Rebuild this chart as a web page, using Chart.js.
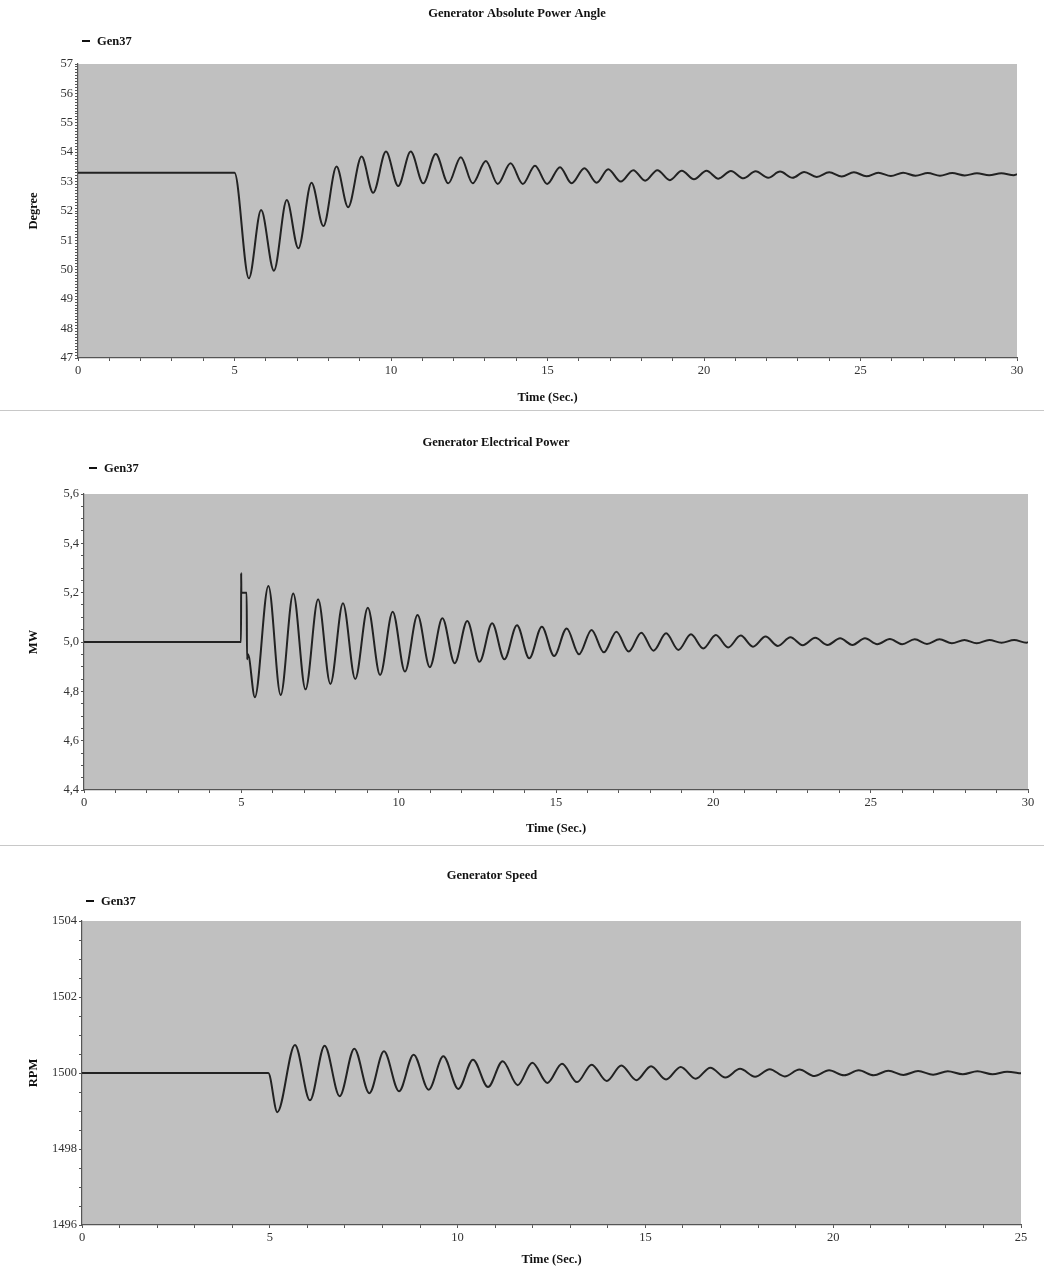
<!DOCTYPE html>
<html>
<head>
<meta charset="utf-8">
<script src="https://cdn.jsdelivr.net/npm/chart.js@4.4.1/dist/chart.umd.min.js"></script>
<style>
  body { margin: 0; background: #fff; }
  #wrap { position: relative; width: 1044px; height: 1270px; }
  canvas { position: absolute; left: 0; }
  .sep { position: absolute; left: 0; width: 1044px; height: 1px; background: #c8c8c8; }
</style>
</head>
<body>
<div id="wrap">
  <canvas id="angleChart" width="1044" height="410" style="top:0"></canvas>
  <div class="sep" style="top:410px"></div>
  <canvas id="powerChart" width="1044" height="425" style="top:418px"></canvas>
  <div class="sep" style="top:845px"></div>
  <canvas id="speedChart" width="1044" height="422" style="top:848px"></canvas>
</div>
<script>
// Generator Absolute Power Angle (deg) - peaks/troughs
const angleTime = [0, 5.0, 5.46, 5.85, 6.26, 6.67, 7.04, 7.46, 7.84, 8.26, 8.63, 9.06, 9.43, 9.84, 10.23, 10.63,
  11.03, 11.43, 11.83, 12.23, 12.61, 13.03, 13.41, 13.82, 14.21, 14.6, 14.99, 15.4, 15.77, 16.18, 16.57, 16.94,
  17.34, 17.74, 18.12, 18.51, 18.91, 19.29, 19.68, 20.08, 20.46, 20.86, 21.26, 21.65, 22.05, 22.43, 22.83, 23.2,
  23.6, 24.0, 24.4, 24.79, 25.19, 25.57, 25.97, 26.36, 26.76, 27.15, 27.54, 27.93, 28.33, 28.72, 29.11, 29.5, 29.9, 30];
const angleDeg = [53.3, 53.3, 49.71, 52.03, 49.97, 52.37, 50.73, 52.96, 51.49, 53.51, 52.13, 53.85, 52.62, 54.02, 52.85, 54.02,
  52.94, 53.94, 52.94, 53.83, 52.94, 53.7, 52.92, 53.62, 52.92, 53.54, 52.92, 53.49, 52.94, 53.45, 52.96, 53.42,
  53.0, 53.39, 53.03, 53.39, 53.05, 53.37, 53.08, 53.37, 53.1, 53.36, 53.11, 53.35, 53.13, 53.34, 53.13, 53.33,
  53.16, 53.32, 53.17, 53.32, 53.18, 53.3, 53.19, 53.3, 53.2, 53.29, 53.2, 53.29, 53.21, 53.28, 53.22, 53.28, 53.22, 53.25];

// Generator Electrical Power (MW)
const powerTime = [0, 4.99, 4.995, 5.0, 5.17, 5.18, 5.21, 5.43,
  5.86, 6.25, 6.65, 7.04, 7.44, 7.83, 8.23, 8.62, 9.02, 9.41, 9.81, 10.2, 10.6, 10.99, 11.39, 11.78,
  12.18, 12.57, 12.97, 13.36, 13.76, 14.15, 14.55, 14.94, 15.34, 15.73, 16.13, 16.52, 16.92, 17.31, 17.71, 18.1,
  18.5, 18.89, 19.29, 19.68, 20.08, 20.47, 20.87, 21.26, 21.66, 22.05, 22.45, 22.84, 23.24, 23.63, 24.03, 24.42,
  24.82, 25.21, 25.61, 26.0, 26.4, 26.79, 27.19, 27.58, 27.98, 28.37, 28.77, 29.16, 29.56, 29.95, 30];
const powerMW = [5.0, 5.0, 5.28, 5.2, 5.2, 4.93, 4.95, 4.776,
  5.227, 4.785, 5.197, 4.808, 5.173, 4.83, 5.157, 4.85, 5.139, 4.866, 5.123, 4.88, 5.109, 4.898, 5.096, 4.914,
  5.085, 4.92, 5.076, 4.93, 5.068, 4.934, 5.062, 4.943, 5.055, 4.95, 5.049, 4.958, 5.042, 4.961, 5.038, 4.965,
  5.035, 4.968, 5.031, 4.974, 5.028, 4.978, 5.026, 4.981, 5.022, 4.984, 5.019, 4.987, 5.017, 4.988, 5.015, 4.988,
  5.015, 4.991, 5.012, 4.991, 5.011, 4.992, 5.011, 4.995, 5.008, 4.995, 5.008, 4.997, 5.008, 4.997, 4.999];

// Generator Speed (RPM)
const speedTime = [0, 4.96, 5.2,
  5.67, 6.07, 6.46, 6.86, 7.25, 7.65, 8.04, 8.44, 8.83, 9.23, 9.62, 10.02, 10.41, 10.81, 11.2, 11.6,
  11.99, 12.39, 12.78, 13.18, 13.57, 13.97, 14.36, 14.76, 15.15, 15.55, 15.94, 16.34, 16.73, 17.13, 17.52, 17.92,
  18.31, 18.71, 19.1, 19.5, 19.89, 20.29, 20.68, 21.08, 21.47, 21.87, 22.26, 22.66, 23.05, 23.45, 23.84, 24.24, 24.63, 25.0];
const speedRPM = [1500, 1500, 1498.97,
  1500.74, 1499.28, 1500.72, 1499.39, 1500.64, 1499.47, 1500.57, 1499.52, 1500.48, 1499.56, 1500.44, 1499.58, 1500.35, 1499.63, 1500.31, 1499.68,
  1500.27, 1499.74, 1500.245, 1499.76, 1500.22, 1499.79, 1500.2, 1499.81, 1500.18, 1499.83, 1500.16, 1499.85, 1500.14, 1499.88, 1500.11, 1499.9,
  1500.1, 1499.91, 1500.09, 1499.92, 1500.07, 1499.94, 1500.07, 1499.94, 1500.06, 1499.95, 1500.05, 1499.955, 1500.045, 1499.965, 1500.045, 1499.965, 1500.035, 1499.99];

const seriesName = 'Gen37';
const FONT = "'Liberation Serif', 'Times New Roman', serif";

// gray plot background + title and "— Gen37" header
const plotBgPlugin = {
  id: 'plotBg',
  beforeDraw(chart) {
    const a = chart.chartArea, c = chart.ctx;
    c.save();
    c.fillStyle = '#c0c0c0';
    c.fillRect(a.left, a.top, a.right - a.left, a.bottom - a.top);
    c.restore();
  }
};
const headerPlugin = {
  id: 'header',
  afterDraw(chart, args, o) {
    const c = chart.ctx;
    c.save();
    c.fillStyle = '#111';
    c.textBaseline = 'middle';
    c.font = 'bold 12.5px ' + FONT;
    c.textAlign = 'center';
    c.fillText(o.title, o.titleX, o.titleY);
    c.strokeStyle = '#111';
    c.lineWidth = 2;
    c.beginPath();
    c.moveTo(o.legendX, o.legendY);
    c.lineTo(o.legendX + 8, o.legendY);
    c.stroke();
    c.textAlign = 'left';
    c.fillText(seriesName, o.legendX + 15, o.legendY + 1);
    c.restore();
  }
};

function range(min, max, step) {
  const out = [];
  const n = Math.round((max - min) / step);
  for (let i = 0; i <= n; i++) out.push(+(min + i * step).toFixed(4));
  return out;
}

function makeChart(id, cfg) {
  const canvas = document.getElementById(id);
  const H = canvas.height;
  const points = cfg.xs.map((x, i) => ({ x: x, y: cfg.ys[i] }));
  const xTicks = range(0, cfg.xMax, 1);
  const yTicks = range(cfg.yMin, cfg.yMax, cfg.yMinor);
  const isMajor = (v, step, base) => Math.abs((v - base) / step - Math.round((v - base) / step)) < 1e-6;
  return new Chart(canvas.getContext('2d'), {
    type: 'line',
    data: {
      datasets: [{
        label: seriesName,
        data: points,
        borderColor: '#222',
        borderWidth: 2,
        pointRadius: 0,
        fill: false,
        cubicInterpolationMode: 'monotone'
      }]
    },
    options: {
      responsive: false,
      animation: false,
      layout: { padding: { left: 0, right: 1044 - cfg.right, top: cfg.top, bottom: 0 } },
      plugins: {
        legend: { display: false },
        title: { display: false },
        tooltip: { enabled: false },
        header: cfg.header
      },
      scales: {
        x: {
          type: 'linear', min: 0, max: cfg.xMax,
          afterFit: s => { s.height = H - cfg.bottom; },
          afterBuildTicks: s => { s.ticks = xTicks.map(v => ({ value: v })); },
          border: { display: true, color: '#555', width: 1.2 },
          grid: { display: true, drawOnChartArea: false, drawTicks: true, tickLength: 3, color: '#555' },
          ticks: {
            autoSkip: false, maxRotation: 0, padding: 2, color: '#333',
            font: { family: FONT, size: 12.5 },
            callback: v => (isMajor(v, 5, 0) ? String(Math.round(v)) : '')
          },
          title: {
            display: true, text: 'Time (Sec.)', color: '#111',
            font: { family: FONT, size: 12.5, weight: 'bold' },
            padding: { top: 0, bottom: cfg.xTitlePad }
          }
        },
        y: {
          min: cfg.yMin, max: cfg.yMax,
          afterFit: s => { s.width = cfg.left; },
          afterBuildTicks: s => { s.ticks = yTicks.map(v => ({ value: v })); },
          border: { display: true, color: '#555', width: 1.2 },
          grid: { display: true, drawOnChartArea: false, drawTicks: true, tickLength: 3, color: '#555' },
          ticks: {
            autoSkip: false, padding: 2, color: '#333',
            font: { family: FONT, size: 12.5 },
            callback: v => (isMajor(v, cfg.yMajor, cfg.yMin) ? cfg.fmt(v) : '')
          },
          title: {
            display: true, text: cfg.yTitle, color: '#111',
            font: { family: FONT, size: 12.5, weight: 'bold' },
            padding: { top: 26, bottom: 0 }
          }
        }
      }
    },
    plugins: [plotBgPlugin, headerPlugin]
  });
}

makeChart('angleChart', {
  xs: angleTime, ys: angleDeg, xMax: 30,
  yMin: 47, yMax: 57, yMajor: 1, yMinor: 0.1, yTitle: 'Degree',
  fmt: v => String(Math.round(v)),
  left: 78, right: 1017, top: 64, bottom: 358, xTitlePad: 5,
  header: { title: 'Generator Absolute Power Angle', titleX: 517, titleY: 14, legendX: 82, legendY: 41 }
});

makeChart('powerChart', {
  xs: powerTime, ys: powerMW, xMax: 30,
  yMin: 4.4, yMax: 5.6, yMajor: 0.2, yMinor: 0.05, yTitle: 'MW',
  fmt: v => v.toFixed(1).replace('.', ','),
  left: 84, right: 1028, top: 76, bottom: 372, xTitlePad: 7,
  header: { title: 'Generator Electrical Power', titleX: 496, titleY: 25, legendX: 89, legendY: 50 }
});

makeChart('speedChart', {
  xs: speedTime, ys: speedRPM, xMax: 25,
  yMin: 1496, yMax: 1504, yMajor: 2, yMinor: 0.5, yTitle: 'RPM',
  fmt: v => String(Math.round(v)),
  left: 82, right: 1021, top: 73, bottom: 377, xTitlePad: 3,
  header: { title: 'Generator Speed', titleX: 492, titleY: 28, legendX: 86, legendY: 53 }
});
</script>
</body>
</html>
